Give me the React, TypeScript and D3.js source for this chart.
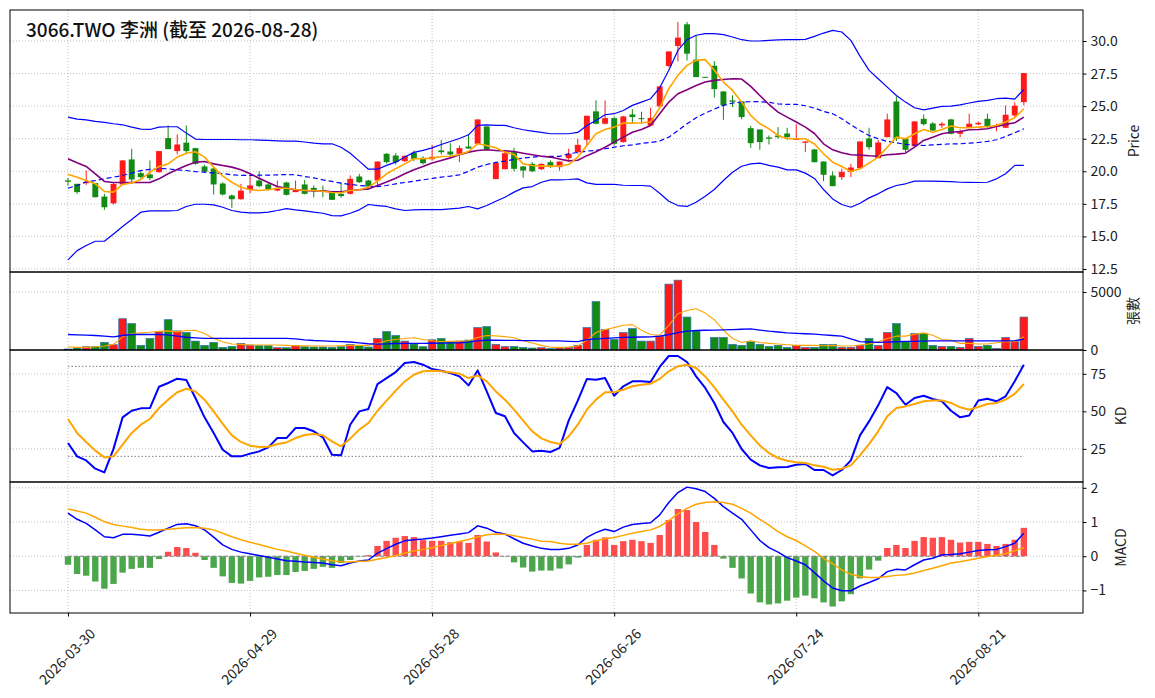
import React, { useRef, useEffect } from 'react'
import * as d3 from 'd3'

// x axis: trading-day index, tick every 20 bars
const tickIdx = [0, 20, 40, 60, 80, 100]
const tickLabels = ['2026-03-30', '2026-04-29', '2026-05-28', '2026-06-26', '2026-07-24', '2026-08-21']

const title = '3066.TWO 李洲 (截至 2026-08-28)'

const opens = [
  19.3, 19.04, 19.09, 19.09, 18.06, 17.54, 18.99, 20.91, 19.86, 19.76,
  19.93, 22.55, 21.55, 22.2, 21.78, 20.37, 20.21, 19.06, 18.14, 17.86,
  18.58, 19.29, 18.99, 18.52, 19.14, 18.4, 18.99, 18.73, 18.56, 18.4,
  18.27, 18.27, 19.6, 19.29, 19.29, 21.34, 21.21, 20.78, 21.42, 21.03,
  20.93, 21.6, 21.52, 21.34, 21.9, 22.11, 23.44, 19.4, 20.16, 21.47,
  20.37, 20.57, 20.16, 20.7, 20.32, 21.01, 21.47, 22.42, 24.6, 23.65,
  24.08, 22.24, 24.36, 24.08, 23.52, 24.98, 28.08, 29.62, 31.28, 28.57,
  27.25, 28.1, 26.13, 25.44, 25.36, 23.31, 23.21, 22.6, 22.75, 22.9,
  22.42, 22.19, 21.68, 20.75, 19.68, 19.55, 19.96, 20.24, 22.52, 21.01,
  22.62, 25.36, 22.52, 21.93, 24.03, 23.67, 23.52, 23.98, 22.88, 23.39,
  23.6, 24.03, 23.44, 23.34, 24.29, 25.31,
]
const highs = [
  19.5, 19.04, 20.06, 19.1, 18.27, 19.1, 20.85, 21.73, 20.06, 20.83,
  21.55, 23.52, 22.83, 23.52, 21.8, 20.5, 20.3, 19.16, 18.22, 19.04,
  19.63, 20.0, 19.09, 19.29, 19.2, 19.29, 19.34, 18.91, 18.91, 18.45,
  19.16, 19.68, 19.8, 19.34, 20.75, 21.4, 21.4, 21.2, 21.6, 21.16,
  22.03, 22.42, 22.16, 21.98, 22.83, 23.98, 23.45, 20.63, 21.47, 21.8,
  20.4, 20.7, 20.62, 20.83, 20.75, 21.73, 22.5, 24.26, 25.44, 25.44,
  24.2, 24.25, 24.77, 24.57, 24.88, 26.55, 29.2, 31.46, 31.46, 30.44,
  27.25, 28.46, 26.13, 25.83, 25.4, 23.49, 23.21, 22.75, 23.39, 23.34,
  23.6, 22.29, 21.7, 20.75, 20.0, 20.21, 20.57, 22.29, 23.34, 22.4,
  24.42, 25.75, 22.52, 23.85, 24.36, 23.78, 23.78, 24.03, 23.21, 24.42,
  23.8, 24.42, 23.65, 25.06, 25.29, 27.54,
]
const lows = [
  18.9, 18.27, 18.95, 18.0, 17.04, 17.45, 18.95, 19.04, 19.42, 19.3,
  19.9, 21.7, 21.3, 21.35, 20.5, 19.9, 18.22, 18.14, 17.19, 17.81,
  18.32, 18.78, 18.52, 18.47, 18.15, 18.4, 18.22, 18.0, 18.0, 17.8,
  17.96, 18.22, 19.1, 18.78, 18.91, 20.6, 20.52, 20.7, 20.78, 20.52,
  20.83, 21.29, 21.09, 20.7, 21.72, 22.06, 21.6, 19.4, 20.16, 20.0,
  19.5, 19.93, 20.1, 20.27, 20.06, 20.88, 21.34, 21.9, 23.6, 23.6,
  22.0, 22.2, 23.7, 23.65, 23.5, 24.95, 28.0, 28.44, 28.5, 27.23,
  27.2, 25.65, 23.95, 24.93, 24.0, 21.8, 21.65, 22.06, 22.5, 22.42,
  22.42, 21.47, 20.68, 19.24, 18.86, 19.34, 19.55, 20.2, 21.65, 21.0,
  22.6, 22.32, 21.47, 21.9, 23.52, 23.08, 23.31, 22.83, 22.6, 23.34,
  23.55, 23.34, 23.08, 23.34, 24.16, 25.06,
]
const closes = [
  19.2, 18.4, 19.19, 18.01, 17.24, 19.03, 20.83, 19.37, 19.55, 19.47,
  21.55, 21.7, 22.06, 21.55, 20.57, 19.98, 18.99, 18.22, 17.86, 18.52,
  18.91, 18.86, 18.6, 18.73, 18.19, 18.6, 18.27, 18.52, 18.52, 17.81,
  18.1, 19.42, 19.16, 18.83, 20.75, 20.7, 20.7, 21.19, 20.96, 20.62,
  21.11, 21.47, 21.29, 21.78, 21.75, 23.98, 21.65, 20.63, 21.39, 20.19,
  20.06, 20.0, 20.57, 20.32, 20.75, 21.34, 22.03, 24.26, 23.65, 24.08,
  22.11, 24.21, 24.16, 24.0, 24.1, 26.52, 29.2, 30.26, 29.03, 27.23,
  27.2, 26.31, 25.06, 25.34, 24.16, 22.16, 22.24, 22.5, 22.62, 22.62,
  22.5, 22.29, 20.7, 19.73, 18.86, 19.96, 20.29, 22.29, 21.85, 22.21,
  23.98, 22.52, 21.65, 23.83, 23.62, 23.13, 23.65, 22.88, 23.08, 23.65,
  23.72, 23.39, 23.52, 24.34, 25.03, 27.54,
]

const ma5 = [
  19.78, 19.55, 19.29, 19.04, 18.45, 18.4, 18.99, 19.11, 19.37, 19.93,
  20.37, 20.57, 21.09, 21.39, 21.5, 21.09, 20.32, 19.63, 19.16, 18.78,
  18.58, 18.52, 18.58, 18.7, 18.7, 18.6, 18.52, 18.52, 18.47, 18.37,
  18.35, 18.52, 18.58, 18.78, 19.24, 19.81, 20.19, 20.57, 20.96, 20.96,
  21.01, 21.14, 21.16, 21.29, 21.52, 22.11, 21.98, 21.8, 21.47, 21.29,
  20.57, 20.45, 20.4, 20.4, 20.4, 20.52, 21.09, 21.98, 22.88, 23.21,
  23.39, 23.7, 23.7, 23.72, 23.78, 24.88, 26.34, 27.36, 28.13, 28.51,
  28.57, 27.75, 26.85, 26.21, 25.31, 24.29, 23.65, 23.26, 22.75, 22.5,
  22.5, 22.5, 22.1, 21.34, 20.7, 20.37, 19.98, 20.19, 20.63, 21.09,
  21.85, 22.62, 22.5, 22.88, 23.21, 23.0, 23.21, 23.47, 23.34, 23.34,
  23.39, 23.44, 23.52, 23.78, 24.11, 24.8,
]
const ma10 = [
  20.96, 20.65, 20.37, 19.81, 19.22, 19.14, 19.14, 19.14, 19.14, 19.14,
  19.42, 19.81, 20.14, 20.45, 20.7, 20.75, 20.57, 20.45, 20.32, 20.11,
  19.81, 19.47, 19.14, 18.83, 18.7, 18.58, 18.52, 18.5, 18.5, 18.42,
  18.42, 18.52, 18.58, 18.65, 18.91, 19.17, 19.47, 19.81, 20.11, 20.37,
  20.63, 20.83, 21.03, 21.27, 21.47, 21.6, 21.65, 21.6, 21.57, 21.52,
  21.39, 21.27, 21.16, 21.09, 20.95, 20.8, 20.85, 21.2, 21.5, 21.85,
  22.24, 22.62, 23.0, 23.21, 23.52, 24.42, 25.31, 25.95, 26.26, 26.59,
  26.85, 26.98, 27.05, 27.1, 27.08, 26.52, 25.82, 25.13, 24.54, 24.16,
  23.78, 23.39, 22.9, 22.11, 21.65, 21.42, 21.27, 21.24, 21.19, 21.16,
  21.27, 21.32, 21.39, 21.85, 22.37, 22.62, 22.88, 23.0, 23.06, 23.19,
  23.21, 23.26, 23.44, 23.6, 23.72, 24.16,
]
const bbUpper = [
  24.16, 24.0, 23.95, 23.83, 23.75, 23.65, 23.57, 23.39, 23.24, 23.21,
  23.39, 23.42, 23.42, 22.93, 22.47, 22.44, 22.44, 22.44, 22.44, 22.42,
  22.42, 22.39, 22.37, 22.34, 22.32, 22.32, 22.25, 22.16, 22.11, 22.11,
  21.85, 21.39, 20.78, 20.16, 20.16, 20.45, 20.7, 21.09, 21.45, 21.6,
  21.8, 22.06, 22.29, 22.52, 22.8, 23.52, 23.57, 23.52, 23.52, 23.34,
  23.19, 23.08, 22.98, 22.88, 22.88, 22.88, 22.98, 23.52, 23.9, 24.34,
  24.42, 24.67, 25.06, 25.31, 25.57, 26.41, 27.75, 29.28, 30.1, 30.44,
  30.56, 30.56, 30.49, 30.31, 30.1, 30.0, 30.0, 30.05, 30.08, 30.1,
  30.1, 30.13, 30.36, 30.61, 30.82, 30.69, 30.05, 28.84, 27.75, 27.1,
  26.46, 25.82, 25.31, 24.88, 24.72, 24.85, 24.98, 25.0, 25.1, 25.24,
  25.36, 25.44, 25.57, 25.62, 25.54, 26.29,
]
const bbMid = [
  18.7, 18.91, 19.19, 19.29, 19.42, 19.55, 19.68, 19.86, 20.06, 20.14,
  20.21, 20.19, 20.11, 20.06, 19.98, 19.93, 19.88, 19.83, 19.73, 19.68,
  19.68, 19.7, 19.7, 19.73, 19.75, 19.73, 19.6, 19.5, 19.34, 19.22,
  19.09, 18.99, 18.91, 18.86, 18.83, 18.91, 19.04, 19.14, 19.24, 19.34,
  19.45, 19.55, 19.63, 19.73, 20.0, 20.32, 20.52, 20.68, 20.78, 20.91,
  21.01, 21.09, 21.14, 21.14, 21.14, 21.34, 21.45, 21.55, 21.6, 21.73,
  21.85, 21.96, 22.03, 22.14, 22.21, 22.32, 22.62, 23.13, 23.65, 24.11,
  24.47, 24.77, 25.06, 25.24, 25.31, 25.34, 25.34, 25.29, 25.18, 25.13,
  25.13, 25.03, 24.85, 24.6, 24.42, 24.03, 23.57, 23.13, 22.75, 22.5,
  22.29, 22.19, 22.06, 22.01, 21.98, 22.03, 22.06, 22.11, 22.11, 22.16,
  22.21, 22.29, 22.42, 22.67, 22.96, 23.26,
]
const bbLower = [
  13.2, 13.91, 14.3, 14.63, 14.63, 15.19, 15.76, 16.3, 16.86, 16.96,
  16.96, 16.96, 16.99, 17.3, 17.47, 17.47, 17.42, 17.24, 16.99, 16.86,
  16.81, 16.81, 16.86, 16.99, 17.14, 17.04, 16.96, 16.86, 16.78, 16.6,
  16.58, 16.78, 17.04, 17.45, 17.37, 17.3, 17.12, 16.99, 17.04, 17.06,
  17.06, 17.06, 17.12, 17.17, 17.3, 17.12, 17.37, 17.7, 18.01, 18.4,
  18.73, 18.83, 19.16, 19.34, 19.34, 19.37, 19.42, 19.11, 18.99, 18.99,
  18.99, 18.93, 18.91, 18.91, 18.86, 18.32, 17.7, 17.37, 17.3, 17.63,
  18.09, 18.6, 19.29, 19.93, 20.39, 20.57, 20.63, 20.45, 20.32, 20.11,
  20.11, 19.86, 19.45, 18.6, 17.88, 17.45, 17.24, 17.55, 17.96, 18.27,
  18.65, 18.91, 19.04, 19.24, 19.24, 19.24, 19.22, 19.2, 19.16, 19.15,
  19.14, 19.16, 19.42, 19.81, 20.45, 20.45,
]

// 張數
const volumes = [
  85, 170, 284, 284, 653, 454, 2698, 2272, 398, 994,
  1562, 2613, 1647, 1505, 767, 398, 653, 227, 312, 568,
  426, 369, 369, 199, 199, 369, 284, 256, 256, 227,
  284, 483, 398, 256, 994, 1590, 1250, 767, 511, 284,
  880, 994, 710, 767, 852, 1931, 2016, 483, 284, 312,
  227, 170, 199, 114, 170, 227, 398, 1931, 4175, 1761,
  909, 1505, 1846, 767, 767, 1193, 5680, 6020, 2840, 1647,
  0, 1079, 1079, 483, 398, 710, 483, 312, 398, 227,
  398, 227, 227, 483, 483, 227, 227, 398, 994, 398,
  1505, 2272, 710, 1420, 1420, 398, 312, 312, 227, 994,
  312, 398, 142, 1079, 738, 2840,
]
const volMa5 = [
  284, 227, 227, 284, 341, 483, 1136, 1420, 1477, 1534,
  1619, 1647, 1562, 1676, 1704, 1420, 994, 710, 511, 483,
  426, 426, 426, 426, 398, 369, 355, 341, 341, 341,
  370, 398, 398, 398, 568, 795, 909, 994, 1050, 909,
  795, 738, 750, 767, 795, 1079, 1250, 1221, 1150, 1050,
  800, 600, 400, 240, 227, 260, 341, 852, 1505, 1761,
  1931, 2130, 2187, 1704, 1335, 1278, 2130, 3124, 3408, 3550,
  3181, 2613, 1704, 994, 653, 795, 653, 568, 511, 454,
  398, 398, 398, 369, 398, 341, 341, 426, 511, 710,
  994, 1193, 1193, 1363, 1477, 1278, 909, 852, 568, 568,
  511, 511, 625, 710, 710, 1136,
]
const volMa20 = [
  1335, 1310, 1280, 1250, 1200, 1140, 1250, 1335, 1335, 1335,
  1335, 1300, 1200, 1100, 1050, 1000, 994, 994, 994, 994,
  994, 994, 994, 994, 994, 960, 880, 820, 780, 750,
  720, 690, 620, 540, 500, 520, 560, 570, 570, 570,
  580, 596, 610, 625, 680, 780, 850, 840, 830, 823,
  810, 800, 795, 795, 780, 750, 720, 900, 960, 1000,
  1050, 1080, 1100, 1120, 1136, 1200, 1330, 1500, 1619, 1680,
  1704, 1720, 1740, 1760, 1790, 1818, 1720, 1619, 1550, 1477,
  1440, 1400, 1363, 1300, 1250, 1193, 950, 720, 690, 653,
  680, 710, 738, 750, 770, 795, 795, 795, 795, 795,
  795, 795, 795, 795, 800, 937,
]

const kValues = [
  28.9, 20.0, 17.3, 11.8, 9.3, 25, 46.0, 50.4, 52.0, 52.2,
  66.4, 68.9, 71.8, 70.9, 58.9, 46.0, 35.6, 24.4, 20.0, 20.0,
  21.8, 23.3, 26.0, 32.2, 32.2, 38.9, 38.9, 36.7, 32.7, 21.1,
  20.7, 41.1, 50.0, 51.6, 68.2, 72.2, 76.2, 82.2, 82.9, 81.1,
  78.2, 77.1, 75.6, 73.3, 67.3, 77.3, 63.3, 48.9, 46.7, 35.6,
  29.3, 23.3, 23.8, 22.9, 25.6, 43.8, 57.1, 71.6, 71.1, 72.2,
  60.4, 66.7, 70.0, 70.0, 69.6, 79.6, 86.9, 86.9, 82.9, 73.3,
  65.6, 55.6, 42.9, 35.6, 24.9, 17.8, 14.0, 12.2, 12.7, 12.9,
  14.4, 14.9, 10.9, 10.9, 7.3, 10.9, 17.3, 34.0, 43.3, 54.0,
  66.2, 62.2, 54.4, 58.9, 60.4, 58.2, 56.7, 50.4, 46.0, 47.3,
  57.3, 58.4, 56.7, 60.0, 70.0, 81.1,
]
const dValues = [
  44.9, 35.6, 29.6, 23.8, 19.3, 20.0, 27.8, 35.6, 41.1, 44.9,
  52.2, 57.8, 62.7, 65.1, 63.3, 57.8, 50.0, 41.6, 34.0, 29.6,
  27.1, 26.2, 26.4, 28.2, 29.3, 32.2, 34.2, 34.9, 34.0, 30.0,
  26.7, 31.8, 37.8, 42.2, 50.4, 57.1, 63.8, 70.0, 74.4, 76.7,
  77.1, 76.7, 76.0, 75.1, 72.2, 73.8, 70.0, 63.3, 57.8, 51.1,
  43.8, 36.7, 32.0, 29.6, 28.2, 33.3, 41.1, 51.1, 57.8, 62.7,
  62.7, 64.4, 66.7, 67.8, 68.4, 71.6, 76.7, 80.0, 81.1, 78.9,
  73.3, 66.0, 57.8, 50.0, 41.1, 34.0, 27.3, 22.2, 18.9, 17.1,
  16.0, 15.6, 14.0, 13.1, 11.1, 11.8, 14.0, 20.7, 28.2, 36.7,
  46.7, 52.2, 53.3, 54.9, 56.7, 57.3, 57.3, 55.6, 52.7, 51.1,
  52.9, 54.9, 55.6, 57.8, 61.6, 68.2,
]

const macdDif = [
  1.26, 1.08, 0.96, 0.77, 0.57, 0.54, 0.64, 0.64, 0.62, 0.59,
  0.70, 0.82, 0.93, 0.95, 0.89, 0.77, 0.56, 0.33, 0.20, 0.12,
  0.07, 0.02, -0.03, -0.08, -0.13, -0.15, -0.17, -0.18, -0.20, -0.25,
  -0.28, -0.20, -0.14, -0.11, 0.09, 0.22, 0.35, 0.45, 0.48, 0.50,
  0.53, 0.57, 0.61, 0.65, 0.69, 0.89, 0.82, 0.70, 0.65, 0.51,
  0.38, 0.30, 0.23, 0.20, 0.20, 0.23, 0.33, 0.55, 0.69, 0.79,
  0.72, 0.85, 0.93, 0.96, 0.98, 1.21, 1.57, 1.86, 2.02, 1.97,
  1.89, 1.69, 1.45, 1.26, 1.08, 0.77, 0.46, 0.25, 0.12, -0.04,
  -0.14, -0.25, -0.48, -0.72, -0.93, -1.01, -1.01, -0.87, -0.77, -0.66,
  -0.45, -0.38, -0.40, -0.25, -0.11, -0.06, 0.04, 0.05, 0.07, 0.12,
  0.17, 0.19, 0.20, 0.28, 0.38, 0.67,
]
const macdSignal = [
  1.38, 1.32, 1.26, 1.14, 1.01, 0.93, 0.88, 0.84, 0.79, 0.77,
  0.77, 0.79, 0.81, 0.83, 0.84, 0.82, 0.77, 0.67, 0.57, 0.48,
  0.41, 0.34, 0.27, 0.20, 0.15, 0.09, 0.03, -0.03, -0.08, -0.13,
  -0.16, -0.17, -0.15, -0.14, -0.09, -0.04, 0.02, 0.09, 0.15, 0.20,
  0.25, 0.31, 0.37, 0.43, 0.49, 0.56, 0.63, 0.65, 0.64, 0.60,
  0.55, 0.50, 0.44, 0.43, 0.38, 0.35, 0.35, 0.38, 0.45, 0.51,
  0.55, 0.61, 0.67, 0.72, 0.77, 0.87, 1.04, 1.24, 1.40, 1.52,
  1.57, 1.59, 1.57, 1.52, 1.40, 1.26, 1.08, 0.91, 0.72, 0.57,
  0.46, 0.30, 0.14, -0.06, -0.22, -0.40, -0.53, -0.59, -0.62, -0.62,
  -0.59, -0.56, -0.54, -0.49, -0.42, -0.35, -0.28, -0.20, -0.16, -0.11,
  -0.06, -0.01, 0.03, 0.07, 0.16, 0.25,
]
const macdHist = [
  -0.25, -0.52, -0.57, -0.74, -0.95, -0.81, -0.48, -0.37, -0.34, -0.34,
  -0.08, 0.13, 0.27, 0.24, 0.10, -0.11, -0.34, -0.59, -0.78, -0.80,
  -0.72, -0.62, -0.60, -0.55, -0.55, -0.46, -0.43, -0.37, -0.31, -0.34,
  -0.20, -0.11, -0.01, 0.03, 0.30, 0.45, 0.54, 0.59, 0.56, 0.47,
  0.45, 0.45, 0.41, 0.43, 0.39, 0.62, 0.43, 0.11, -0.01, -0.18,
  -0.33, -0.45, -0.42, -0.42, -0.36, -0.24, -0.04, 0.33, 0.48, 0.55,
  0.33, 0.44, 0.48, 0.44, 0.39, 0.62, 1.06, 1.38, 1.35, 1.00,
  0.71, 0.33, -0.07, -0.34, -0.65, -1.09, -1.35, -1.41, -1.38, -1.30,
  -1.21, -1.15, -1.23, -1.35, -1.47, -1.32, -1.11, -0.65, -0.39, -0.13,
  0.24, 0.33, 0.24, 0.45, 0.56, 0.54, 0.56, 0.48, 0.40, 0.42,
  0.42, 0.36, 0.30, 0.36, 0.48, 0.83,
]

const W = 1155
const H = 698
const LEFT = 10
const RIGHT = 1083
const FONT = '"Noto Sans CJK TC", "Noto Sans", sans-serif'
const UP = '#ff1a1a'
const DOWN = '#138a13'

type Panel = {
  top: number
  bottom: number
  domain: [number, number]
  ticks: number[]
  fmt: (v: number) => string
  label: string
  labelX: number
}

const panels: Record<string, Panel> = {
  price: {
    top: 10, bottom: 272, domain: [12.27, 32.38],
    ticks: [12.5, 15, 17.5, 20, 22.5, 25, 27.5, 30],
    fmt: d3.format('.1f'), label: 'Price', labelX: 1133,
  },
  vol: {
    top: 272, bottom: 350, domain: [0, 6724],
    ticks: [0, 5000], fmt: d3.format('d'), label: '張數', labelX: 1132,
  },
  kd: {
    top: 350, bottom: 482, domain: [2.9, 90.9],
    ticks: [25, 50, 75], fmt: d3.format('d'), label: 'KD', labelX: 1120,
  },
  macd: {
    top: 482, bottom: 613, domain: [-1.66, 2.17],
    ticks: [-1, 0, 1, 2], fmt: (v) => d3.format('d')(v).replace('-', '\u2212'), label: 'MACD', labelX: 1120,
  },
}

const renderChart = (svg: SVGSVGElement) => {
  const root = d3.select(svg)
  root.selectAll('*').remove()
  root.append('rect').attr('width', W).attr('height', H).attr('fill', '#fff')

  const n = closes.length
  const x = d3.scaleLinear().domain([-6.37, 111.5]).range([LEFT, RIGHT])
  const step = x(1) - x(0)

  const yOf = (p: Panel) => d3.scaleLinear().domain(p.domain).range([p.bottom, p.top])

  const drawLine = (
    g: d3.Selection<SVGGElement, unknown, null, undefined>,
    data: number[],
    y: d3.ScaleLinear<number, number>,
    color: string,
    width: number,
    dash?: string,
  ) => {
    const line = d3
      .line<number>()
      .x((d, i) => x(i))
      .y((d) => y(d))
    g.append('path')
      .datum(data)
      .attr('fill', 'none')
      .attr('stroke', color)
      .attr('stroke-width', width)
      .attr('stroke-dasharray', dash || null)
      .attr('stroke-linejoin', 'round')
      .attr('d', line)
  }

  // grid + frame + right axis for each panel
  const frame = (p: Panel) => {
    const y = yOf(p)
    const g = root.append('g')
    g.selectAll('line.h')
      .data(p.ticks)
      .enter()
      .append('line')
      .attr('x1', LEFT)
      .attr('x2', RIGHT)
      .attr('y1', (d) => y(d))
      .attr('y2', (d) => y(d))
      .attr('stroke', '#b0b0b0')
      .attr('stroke-width', 0.8)
      .attr('stroke-dasharray', '1,2')
    g.selectAll('line.v')
      .data(tickIdx)
      .enter()
      .append('line')
      .attr('x1', (d) => x(d))
      .attr('x2', (d) => x(d))
      .attr('y1', p.top)
      .attr('y2', p.bottom)
      .attr('stroke', '#b0b0b0')
      .attr('stroke-width', 0.8)
      .attr('stroke-dasharray', '1,2')
    return { g, y }
  }

  const axis = (p: Panel) => {
    const y = yOf(p)
    root
      .append('rect')
      .attr('x', LEFT)
      .attr('y', p.top)
      .attr('width', RIGHT - LEFT)
      .attr('height', p.bottom - p.top)
      .attr('fill', 'none')
      .attr('stroke', '#000')
      .attr('stroke-width', 1)
    const yAxis = d3
      .axisRight(y)
      .tickValues(p.ticks)
      .tickSize(3.5)
      .tickPadding(4)
      .tickFormat((d) => p.fmt(d as number))
    const ga = root.append('g').attr('transform', `translate(${RIGHT}, 0)`).call(yAxis)
    ga.select('.domain').remove()
    ga.selectAll('text').attr('font-family', FONT).attr('font-size', 14).attr('fill', '#222')
    root
      .append('text')
      .attr('transform', `translate(${p.labelX}, ${(p.top + p.bottom) / 2}) rotate(-90)`)
      .attr('text-anchor', 'middle')
      .attr('dominant-baseline', 'central')
      .attr('font-family', FONT)
      .attr('font-size', 14)
      .attr('fill', '#222')
      .text(p.label)
  }

  // ---- price panel
  {
    const p = panels.price
    const { g, y } = frame(p)
    const bw = step * 0.65
    const candles = g.selectAll('g.c').data(d3.range(n)).enter().append('g')
    candles
      .append('line')
      .attr('x1', (i) => x(i))
      .attr('x2', (i) => x(i))
      .attr('y1', (i) => y(highs[i]))
      .attr('y2', (i) => y(lows[i]))
      .attr('stroke', (i) => (closes[i] >= opens[i] ? UP : DOWN))
      .attr('stroke-width', 1)
    candles
      .append('rect')
      .attr('x', (i) => x(i) - bw / 2)
      .attr('y', (i) => y(Math.max(opens[i], closes[i])))
      .attr('width', bw)
      .attr('height', (i) => Math.max(1, Math.abs(y(opens[i]) - y(closes[i]))))
      .attr('fill', (i) => (closes[i] >= opens[i] ? UP : DOWN))
    drawLine(g, bbUpper, y, '#0000ff', 1.2)
    drawLine(g, bbLower, y, '#0000ff', 1.2)
    drawLine(g, bbMid, y, '#0000ff', 1.2, '5,3')
    drawLine(g, ma10, y, '#800080', 1.6)
    drawLine(g, ma5, y, '#ffa500', 1.6)
    axis(p)
    root
      .append('text')
      .attr('x', 26)
      .attr('y', 37)
      .attr('font-family', FONT)
      .attr('font-size', 19)
      .attr('font-weight', 500)
      .attr('fill', '#111')
      .text(title)
  }

  // ---- volume panel
  {
    const p = panels.vol
    const { g, y } = frame(p)
    const vw = step * 0.85
    g.selectAll('rect.v')
      .data(volumes)
      .enter()
      .append('rect')
      .attr('x', (d, i) => x(i) - vw / 2)
      .attr('y', (d) => y(d))
      .attr('width', vw)
      .attr('height', (d) => y(0) - y(d))
      .attr('fill', (d, i) => (closes[i] >= opens[i] ? UP : DOWN))
      .attr('stroke', (d) => (d > 0 ? '#2b73b3' : 'none'))
      .attr('stroke-width', 0.7)
    drawLine(g, volMa5, y, '#ffa500', 1.1)
    drawLine(g, volMa20, y, '#0000ff', 1.3)
    axis(p)
  }

  // ---- KD panel
  {
    const p = panels.kd
    const { g, y } = frame(p)
    ;[20, 80].forEach((lv) => {
      g.append('line')
        .attr('x1', x(0))
        .attr('x2', x(n - 1))
        .attr('y1', y(lv))
        .attr('y2', y(lv))
        .attr('stroke', '#808080')
        .attr('stroke-width', 1)
        .attr('stroke-dasharray', '1.5,2')
    })
    drawLine(g, kValues, y, '#0000ff', 2)
    drawLine(g, dValues, y, '#ffa500', 2)
    axis(p)
  }

  // ---- MACD panel
  {
    const p = panels.macd
    const { g, y } = frame(p)
    const hw = step * 0.7
    g.selectAll('rect.h')
      .data(macdHist)
      .enter()
      .append('rect')
      .attr('x', (d, i) => x(i) - hw / 2)
      .attr('y', (d) => y(Math.max(0, d)))
      .attr('width', hw)
      .attr('height', (d) => Math.abs(y(d) - y(0)))
      .attr('fill', (d) => (d >= 0 ? '#ff4c4c' : '#4ca64c'))
    g.append('line')
      .attr('x1', x(0))
      .attr('x2', x(n - 1))
      .attr('y1', y(0))
      .attr('y2', y(0))
      .attr('stroke', '#808080')
      .attr('stroke-width', 1)
      .attr('stroke-dasharray', '4,2')
    drawLine(g, macdDif, y, '#0000ff', 1.5)
    drawLine(g, macdSignal, y, '#ffa500', 1.5)
    axis(p)

    const xAxis = d3
      .axisBottom(x)
      .tickValues(tickIdx)
      .tickSize(3.5)
      .tickFormat((d, i) => tickLabels[i])
    const gx = root.append('g').attr('transform', `translate(0, ${p.bottom})`).call(xAxis)
    gx.select('.domain').remove()
    gx.selectAll('text')
      .attr('y', null)
      .attr('dy', null)
      .attr('text-anchor', 'middle')
      .attr('dominant-baseline', 'central')
      .attr('transform', 'translate(-2, 43) rotate(-45)')
      .attr('font-family', FONT)
      .attr('font-size', 14)
      .attr('fill', '#222')
  }
}

const App = () => {
  const svgRef = useRef<SVGSVGElement>(null)
  useEffect(() => {
    if (svgRef.current) renderChart(svgRef.current)
  }, [])
  return (
    <svg
      ref={svgRef}
      width={W}
      height={H}
      style={{ position: 'absolute', left: 0, top: 0, display: 'block' }}
    />
  )
}

export default App
